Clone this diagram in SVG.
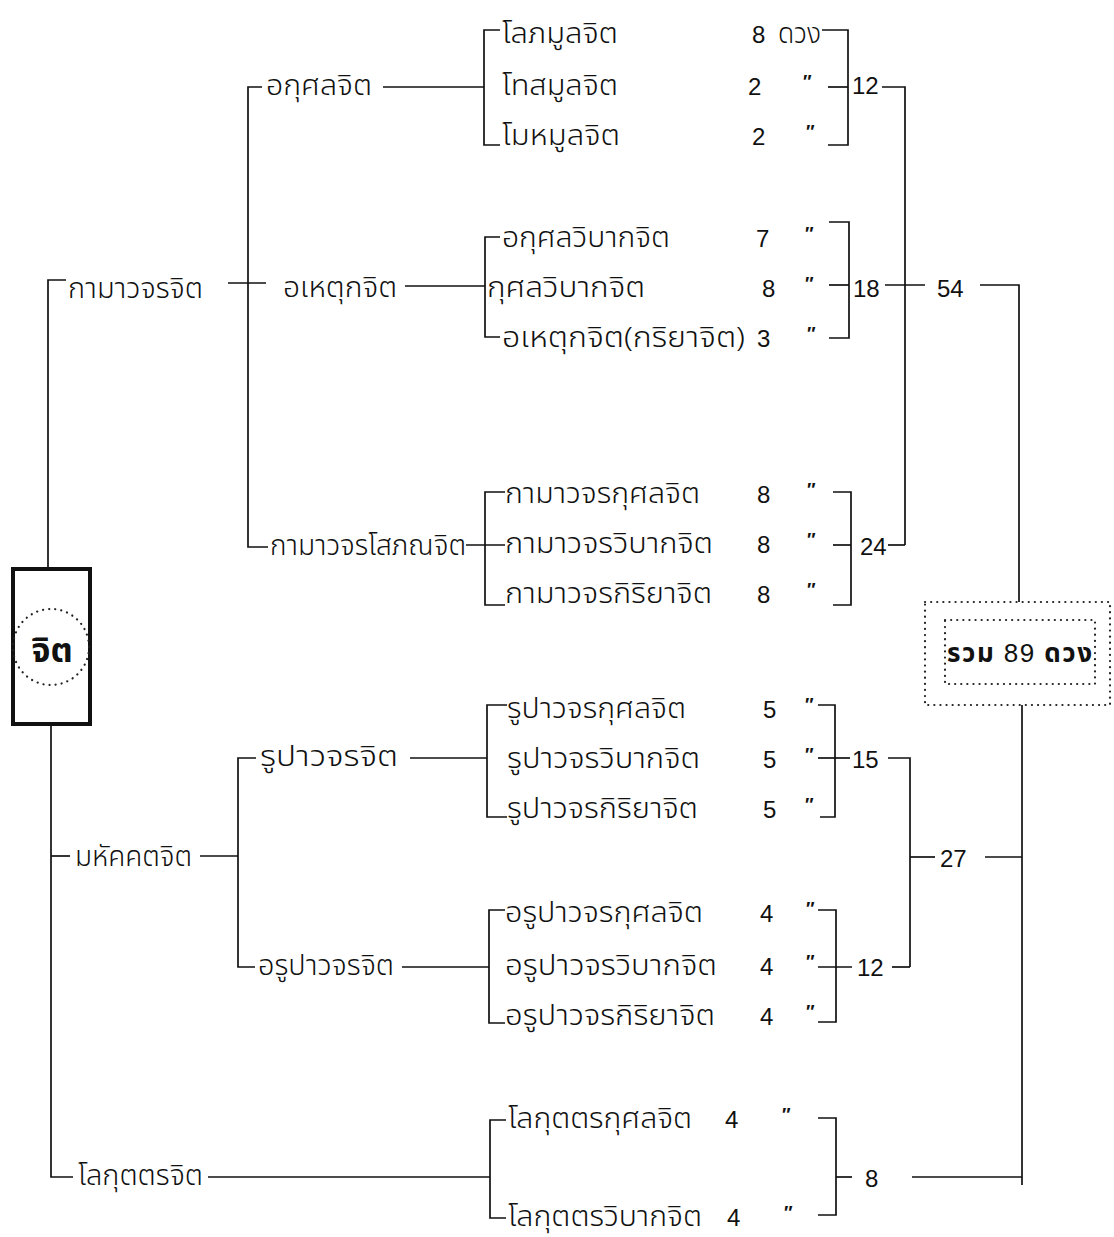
<svg xmlns="http://www.w3.org/2000/svg" width="1114" height="1237" viewBox="0 0 1114 1237">
<style>
.t{font-family:"Noto Sans Thai","Noto Sans Thai UI","Loma","Garuda","Norasi","Noto Sans","DejaVu Sans",sans-serif;font-size:28px;font-weight:300;fill:#111}
.n{font-family:"Liberation Sans",Arial,sans-serif;font-size:24px;fill:#111}
.q{font-family:"Liberation Sans",Arial,sans-serif;font-size:18px;font-style:italic;font-weight:bold;fill:#111}
.b{font-family:"Noto Sans Thai","Loma","Garuda","Noto Sans","DejaVu Sans",sans-serif;font-size:26px;font-weight:bold;fill:#111}
.ln{fill:none;stroke:#111;stroke-width:1.7}
.dot{fill:none;stroke:#222;stroke-width:2.2;stroke-dasharray:0.1 6;stroke-linecap:round}
</style>
<rect width="1114" height="1237" fill="#fff"/>
<g id="connectors" class="ln">
<path d="M48,568 V280 H66"/>
<path d="M51,725 V1177 H73"/>
<path d="M51,856 H70"/>
<path d="M228,283 H266"/>
<path d="M200,856 H238"/>
<path d="M262,87 H248 V547 H268"/>
<path d="M383,87 H484"/>
<path d="M405,286 H485"/>
<path d="M466,545 H505"/>
<path d="M256,758 H238 V967 H255"/>
<path d="M410,758 H487"/>
<path d="M402,967 H489"/>
<path d="M208,1177 H490"/>
<path d="M500,30 H484 V145 H500"/>
<path d="M500,237 H485 V337 H500"/>
<path d="M505,492 H485 V605 H505"/>
<path d="M507,705 H487 V817 H507"/>
<path d="M505,910 H489 V1023 H505"/>
<path d="M506,1120 H490 V1218 H506"/>
<path d="M822,30 H848 V145 H828"/>
<path d="M828,87 H848"/>
<path d="M882,87 H905 V545"/>
<path d="M829,222 H849 V338 H829"/>
<path d="M829,285 H849"/>
<path d="M885,285 H925"/>
<path d="M980,285 H1019 V602"/>
<path d="M833,492 H851 V605 H833"/>
<path d="M833,545 H851"/>
<path d="M888,545 H905"/>
<path d="M818,705 H835 V817 H820"/>
<path d="M818,758 H850"/>
<path d="M888,758 H910 V967"/>
<path d="M818,910 H836 V1022 H818"/>
<path d="M818,967 H852"/>
<path d="M892,967 H910"/>
<path d="M910,857 H935"/>
<path d="M985,857 H1022"/>
<path d="M1022,705 V1185"/>
<path d="M818,1118 H836 V1215 H818"/>
<path d="M836,1177 H852"/>
<path d="M912,1177 H1022"/>
</g>
<g id="root">
<rect x="13" y="569" width="77" height="155" fill="none" stroke="#111" stroke-width="4"/>
<circle cx="51" cy="647" r="38" class="dot"/>
<text x="52" y="662" class="b" text-anchor="middle" style="font-size:34px">จิต</text>
</g>
<g id="kama"><text x="68" y="298" class="t" textLength="135" lengthAdjust="spacingAndGlyphs">กามาวจรจิต</text></g>
<g id="mahaggata"><text x="75" y="866" class="t" textLength="117" lengthAdjust="spacingAndGlyphs">มหัคคตจิต</text></g>
<g id="lokuttara"><text x="78" y="1185" class="t" textLength="125" lengthAdjust="spacingAndGlyphs">โลกุตตรจิต</text></g>
<g id="akusala"><text x="266" y="95" class="t" textLength="106" lengthAdjust="spacingAndGlyphs">อกุศลจิต</text></g>
<g id="ahetuka"><text x="283" y="297" class="t" textLength="114" lengthAdjust="spacingAndGlyphs">อเหตุกจิต</text></g>
<g id="sobhana"><text x="270" y="555" class="t" textLength="196" lengthAdjust="spacingAndGlyphs">กามาวจรโสภณจิต</text></g>
<g id="rupa"><text x="260" y="766" class="t" textLength="138" lengthAdjust="spacingAndGlyphs">รูปาวจรจิต</text></g>
<g id="arupa"><text x="258" y="975" class="t" textLength="136" lengthAdjust="spacingAndGlyphs">อรูปาวจรจิต</text></g>
<g id="g1">
<text x="502" y="43" class="t" textLength="116" lengthAdjust="spacingAndGlyphs">โลภมูลจิต</text><text x="752" y="43" class="n">8</text><text x="778" y="43" class="t" textLength="43" lengthAdjust="spacingAndGlyphs">ดวง</text>
<text x="502" y="95" class="t" textLength="116" lengthAdjust="spacingAndGlyphs">โทสมูลจิต</text><text x="748" y="95" class="n">2</text><text x="802" y="88" class="q">″</text>
<text x="502" y="145" class="t" textLength="118" lengthAdjust="spacingAndGlyphs">โมหมูลจิต</text><text x="752" y="145" class="n">2</text><text x="805" y="138" class="q">″</text>
</g>
<g id="g2">
<text x="502" y="247" class="t" textLength="168" lengthAdjust="spacingAndGlyphs">อกุศลวิบากจิต</text><text x="756" y="247" class="n">7</text><text x="804" y="240" class="q">″</text>
<text x="487" y="297" class="t" textLength="158" lengthAdjust="spacingAndGlyphs">กุศลวิบากจิต</text><text x="762" y="297" class="n">8</text><text x="804" y="290" class="q">″</text>
<text x="502" y="347" class="t" textLength="243" lengthAdjust="spacingAndGlyphs">อเหตุกจิต(กริยาจิต)</text><text x="757" y="347" class="n">3</text><text x="806" y="340" class="q">″</text>
</g>
<g id="g3">
<text x="505" y="503" class="t" textLength="195" lengthAdjust="spacingAndGlyphs">กามาวจรกุศลจิต</text><text x="757" y="503" class="n">8</text><text x="806" y="496" class="q">″</text>
<text x="505" y="553" class="t" textLength="208" lengthAdjust="spacingAndGlyphs">กามาวจรวิบากจิต</text><text x="757" y="553" class="n">8</text><text x="806" y="546" class="q">″</text>
<text x="505" y="603" class="t" textLength="207" lengthAdjust="spacingAndGlyphs">กามาวจรกิริยาจิต</text><text x="757" y="603" class="n">8</text><text x="806" y="596" class="q">″</text>
</g>
<g id="g4">
<text x="507" y="718" class="t" textLength="179" lengthAdjust="spacingAndGlyphs">รูปาวจรกุศลจิต</text><text x="763" y="718" class="n">5</text><text x="804" y="711" class="q">″</text>
<text x="507" y="768" class="t" textLength="193" lengthAdjust="spacingAndGlyphs">รูปาวจรวิบากจิต</text><text x="763" y="768" class="n">5</text><text x="804" y="761" class="q">″</text>
<text x="507" y="818" class="t" textLength="191" lengthAdjust="spacingAndGlyphs">รูปาวจรกิริยาจิต</text><text x="763" y="818" class="n">5</text><text x="804" y="811" class="q">″</text>
</g>
<g id="g5">
<text x="505" y="922" class="t" textLength="198" lengthAdjust="spacingAndGlyphs">อรูปาวจรกุศลจิต</text><text x="760" y="922" class="n">4</text><text x="805" y="915" class="q">″</text>
<text x="505" y="975" class="t" textLength="212" lengthAdjust="spacingAndGlyphs">อรูปาวจรวิบากจิต</text><text x="760" y="975" class="n">4</text><text x="805" y="968" class="q">″</text>
<text x="505" y="1025" class="t" textLength="210" lengthAdjust="spacingAndGlyphs">อรูปาวจรกิริยาจิต</text><text x="760" y="1025" class="n">4</text><text x="805" y="1018" class="q">″</text>
</g>
<g id="g6">
<text x="508" y="1128" class="t" textLength="184" lengthAdjust="spacingAndGlyphs">โลกุตตรกุศลจิต</text><text x="725" y="1128" class="n">4</text><text x="781" y="1121" class="q">″</text>
<text x="508" y="1226" class="t" textLength="194" lengthAdjust="spacingAndGlyphs">โลกุตตรวิบากจิต</text><text x="727" y="1226" class="n">4</text><text x="783" y="1219" class="q">″</text>
</g>
<g id="totals">
<text x="852" y="94" class="n">12</text>
<text x="853" y="297" class="n">18</text>
<text x="937" y="297" class="n">54</text>
<text x="860" y="555" class="n">24</text>
<text x="852" y="768" class="n">15</text>
<text x="857" y="976" class="n">12</text>
<text x="940" y="867" class="n">27</text>
<text x="865" y="1187" class="n">8</text>
</g>
<g id="sum">
<rect x="925" y="602" width="185" height="103" class="dot"/>
<rect x="945" y="620" width="150" height="64" class="dot"/>
<text x="947" y="662" class="b" textLength="145" lengthAdjust="spacing">รวม <tspan font-family="Liberation Sans, Arial, sans-serif" font-weight="normal">89</tspan>  ดวง</text>
</g>
</svg>
